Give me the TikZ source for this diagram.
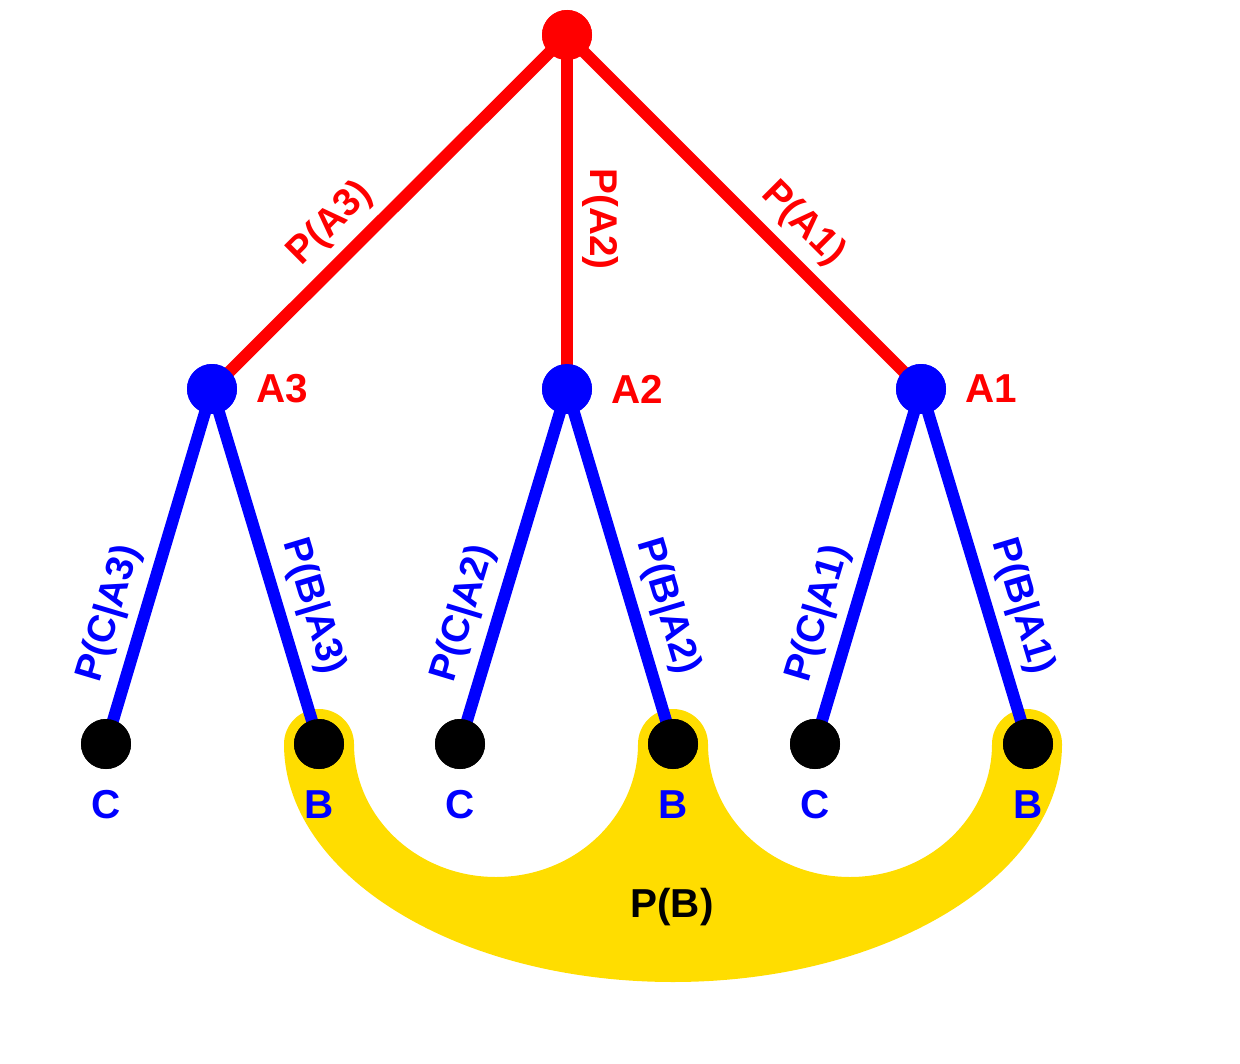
\documentclass[tikz,border=0pt]{standalone}
\usepackage{fontspec}
\setmainfont{Liberation Sans}
\usetikzlibrary{positioning}
\definecolor{gold}{RGB}{255,221,0}
\begin{document}
\begin{tikzpicture}[x=0.02cm, y=0.02cm,
		rdot/.style = {circle, fill = red, minimum size = 1cm, inner sep = 0},
		bdot/.style = {circle, fill = blue, minimum size = 1cm, inner sep = 0},
		kdot/.style = {circle, fill = black, minimum size = 1cm, inner sep = 0},
		redge/.style = {red, line width = 0.24cm},
		bedge/.style = {blue, line width = 0.24cm},
		elab/.style = {font = \fontsize{22}{22}\selectfont\bfseries, sloped, above = 2pt},
		nlab/.style = {font = \fontsize{23}{23}\selectfont\bfseries}]
		\useasboundingbox (0, 0) rectangle (1240, 1063);
		% Band
		\fill[gold] (284, 319) arc[start angle = 180, end angle = 0, radius = 35]
			arc[start angle = 180, end angle = 360, x radius = 142, y radius = 133]
			arc[start angle = 180, end angle = 0, radius = 35]
			arc[start angle = 180, end angle = 360, x radius = 142, y radius = 133]
			arc[start angle = 180, end angle = 0, radius = 35]
			arc[start angle = 0, end angle = -180, x radius = 389, y radius = 238];
		% Nodes
		\node[rdot] (root) at (567, 1028) {};
		\node[bdot] (a3) at (212, 674) {};
		\node[bdot] (a2) at (567, 674) {};
		\node[bdot] (a1) at (921, 674) {};
		\node[kdot] (c3) at (106, 319) {};
		\node[kdot] (b3) at (319, 319) {};
		\node[kdot] (c2) at (460, 319) {};
		\node[kdot] (b2) at (673, 319) {};
		\node[kdot] (c1) at (815, 319) {};
		\node[kdot] (b1) at (1028, 319) {};
		% Edges
		\draw[redge] (root.center) -- node[elab, pos = 0.6] {P(A3)} (a3.center);
		\draw[redge] (root.center) -- node[elab, pos = 0.52] {P(A2)} (a2.center);
		\draw[redge] (root.center) -- node[elab, pos = 0.6] {P(A1)} (a1.center);
		\draw[bedge] (a3.center) -- node[elab, blue, pos = 0.66] {P(C|A3)} (c3.center);
		\draw[bedge] (a3.center) -- node[elab, blue, pos = 0.64] {P(B|A3)} (b3.center);
		\draw[bedge] (a2.center) -- node[elab, blue, pos = 0.66] {P(C|A2)} (c2.center);
		\draw[bedge] (a2.center) -- node[elab, blue, pos = 0.64] {P(B|A2)} (b2.center);
		\draw[bedge] (a1.center) -- node[elab, blue, pos = 0.66] {P(C|A1)} (c1.center);
		\draw[bedge] (a1.center) -- node[elab, blue, pos = 0.64] {P(B|A1)} (b1.center);
		\node[rdot] at (root) {};
		\foreach \n in {a3, a2, a1} \node[bdot] at (\n) {};
		\foreach \n in {c3, b3, c2, b2, c1, b1} \node[kdot] at (\n) {};
		% Labels
		\node[nlab, red, right = 0.25cm of a3] (la3) {A3};
		\node[nlab, red, right = 0.25cm of a2] (la2) {A2};
		\node[nlab, red, right = 0.25cm of a1] (la1) {A1};
		\foreach \n in {c3, c2, c1} \node[nlab, blue, below = 0.3cm of \n] {C};
		\foreach \n in {b3, b2, b1} \node[nlab, blue, below = 0.3cm of \n] {B};
		\node[nlab] (pb) at (672, 156) {P(B)};
	\end{tikzpicture}
\end{document}
